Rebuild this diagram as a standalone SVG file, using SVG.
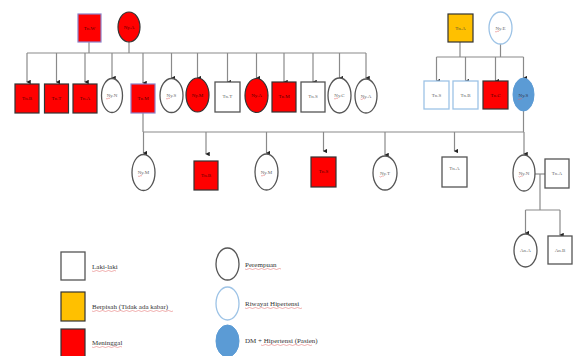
<svg xmlns="http://www.w3.org/2000/svg" width="573" height="356" viewBox="0 0 573 356">
<defs>
<marker id="arr" viewBox="0 0 6 6" refX="3" refY="5" markerWidth="4.5" markerHeight="4.5" orient="auto-start-reverse" markerUnits="userSpaceOnUse">
<path d="M0,0 L6,0 L3,6 Z" fill="#222"/>
</marker>
<style>
.ln{stroke:#8a8a8a;stroke-width:1.2;fill:none}
.dr{stroke:#8a8a8a;stroke-width:1.2;fill:none;marker-end:url(#arr)}
.m{fill:#fff;stroke:#555;stroke-width:1.3}
.mb{fill:#fff;stroke:#9dc3e6;stroke-width:1.3}
.r{fill:#ff0000;stroke:#333;stroke-width:1.2}
.rp{fill:#ff0000;stroke:#8c80c8;stroke-width:1.2}
.y{fill:#ffc000;stroke:#333;stroke-width:1.2}
.b{fill:#5b9bd5;stroke:#5b9bd5;stroke-width:1}
.f{fill:#fff;stroke:#555;stroke-width:1.3}
.fb{fill:#fff;stroke:#9dc3e6;stroke-width:1.3}
.t{font-family:"Liberation Serif",serif;font-size:5px;fill:#666;text-anchor:middle}
.tr{font-family:"Liberation Serif",serif;font-size:5px;fill:#500;text-anchor:middle}
.lg{font-family:"Liberation Serif",serif;font-size:7px;fill:#333}
.sq{stroke:#e06060;stroke-width:0.5;fill:none}
</style>
</defs>

<g id="connectors">
<line class="ln" x1="89" y1="42" x2="89" y2="53"/>
<line class="ln" x1="129" y1="42" x2="129" y2="53"/>
<line class="ln" x1="27" y1="53" x2="366" y2="53"/>
<line class="dr" x1="27" y1="53" x2="27" y2="82"/>
<line class="dr" x1="56.5" y1="53" x2="56.5" y2="82"/>
<line class="dr" x1="85" y1="53" x2="85" y2="82"/>
<line class="dr" x1="112" y1="53" x2="112" y2="78"/>
<line class="dr" x1="143" y1="53" x2="143" y2="83"/>
<line class="dr" x1="171.5" y1="53" x2="171.5" y2="78"/>
<line class="dr" x1="197.5" y1="53" x2="197.5" y2="78"/>
<line class="dr" x1="227.5" y1="53" x2="227.5" y2="82"/>
<line class="dr" x1="256.5" y1="53" x2="256.5" y2="78"/>
<line class="dr" x1="284" y1="53" x2="284" y2="82"/>
<line class="dr" x1="313" y1="53" x2="313" y2="82"/>
<line class="dr" x1="339.5" y1="53" x2="339.5" y2="78"/>
<line class="dr" x1="366" y1="53" x2="366" y2="78"/>

<line class="ln" x1="460" y1="42" x2="460" y2="57"/>
<line class="ln" x1="500.5" y1="44" x2="500.5" y2="57"/>
<line class="ln" x1="436.5" y1="57" x2="523.5" y2="57"/>
<line class="dr" x1="436.5" y1="57" x2="436.5" y2="81"/>
<line class="dr" x1="465.5" y1="57" x2="465.5" y2="81"/>
<line class="dr" x1="495.5" y1="57" x2="495.5" y2="81"/>
<line class="dr" x1="523.5" y1="57" x2="523.5" y2="78"/>

<line class="ln" x1="143" y1="112" x2="143" y2="132"/>
<line class="ln" x1="523.5" y1="111" x2="523.5" y2="132"/>
<line class="ln" x1="143" y1="132" x2="524" y2="132"/>
<line class="dr" x1="143.5" y1="132" x2="143.5" y2="153"/>
<line class="dr" x1="206" y1="132" x2="206" y2="154"/>
<line class="dr" x1="266.5" y1="132" x2="266.5" y2="153"/>
<line class="dr" x1="323.5" y1="132" x2="323.5" y2="151"/>
<line class="dr" x1="385" y1="132" x2="385" y2="155"/>
<line class="dr" x1="454.5" y1="132" x2="454.5" y2="151"/>
<line class="dr" x1="524" y1="132" x2="524" y2="154"/>

<line class="ln" x1="535" y1="174" x2="545" y2="174"/>
<line class="ln" x1="540" y1="174" x2="540" y2="210"/>
<line class="ln" x1="525.5" y1="210" x2="560" y2="210"/>
<line class="dr" x1="525.5" y1="210" x2="525.5" y2="233"/>
<line class="dr" x1="560" y1="210" x2="560" y2="235"/>
</g>

<g id="tnW"><rect class="rp" x="78" y="14" width="23" height="28"/><text class="tr" x="89.5" y="30">Tn.W</text></g>
<g id="nyA0"><ellipse class="r" cx="129" cy="27" rx="11" ry="15"/><text class="tr" x="129" y="29">Ny.A</text></g>

<g id="c1"><rect class="r" x="15" y="84" width="24" height="29"/><text class="tr" x="27" y="100">Tn.B</text></g>
<g id="c2"><rect class="r" x="44.5" y="84" width="24" height="29"/><text class="tr" x="56.5" y="100">Tn.T</text></g>
<g id="c3"><rect class="r" x="73" y="84" width="24" height="29"/><text class="tr" x="85" y="100">Tn.A</text></g>
<g id="c4"><ellipse class="f" cx="112" cy="95.5" rx="10.5" ry="17"/><text class="t" x="112" y="97">Ny.N</text><path class="sq" d="M106,98.5 q1,1 2,0 t2,0"/></g>
<g id="c5"><rect class="rp" x="131" y="84" width="24" height="29"/><text class="tr" x="143" y="100">Tn.M</text></g>
<g id="c6"><ellipse class="f" cx="171.5" cy="95.5" rx="11.5" ry="17"/><text class="t" x="171.5" y="97">Ny.S</text><path class="sq" d="M166,98.5 q1,1 2,0 t2,0"/></g>
<g id="c7"><ellipse class="r" cx="197.5" cy="95" rx="11.5" ry="17"/><text class="tr" x="197.5" y="97">Ny.M</text></g>
<g id="c8"><rect class="m" x="215" y="82" width="25" height="30"/><text class="t" x="227.5" y="98">Tn.T</text></g>
<g id="c9"><ellipse class="r" cx="256.5" cy="95.5" rx="11.5" ry="17"/><text class="tr" x="256.5" y="97">Ny.A</text></g>
<g id="c10"><rect class="r" x="272" y="82" width="24" height="30"/><text class="tr" x="284" y="98">Tn.M</text></g>
<g id="c11"><rect class="m" x="301" y="82" width="24" height="30"/><text class="t" x="313" y="98">Tn.S</text></g>
<g id="c12"><ellipse class="f" cx="339.5" cy="95.5" rx="11.5" ry="17.5"/><text class="t" x="339.5" y="97">Ny.C</text><path class="sq" d="M334,98.5 q1,1 2,0 t2,0"/></g>
<g id="c13"><ellipse class="f" cx="366" cy="96" rx="11" ry="17"/><text class="t" x="366" y="97.5">Ny.A</text><path class="sq" d="M360.5,99 q1,1 2,0 t2,0"/></g>

<g id="tnA0"><rect class="y" x="448" y="14" width="25" height="28"/><text class="t" x="460.5" y="30" style="fill:#553">Tn.A</text></g>
<g id="nyE"><ellipse class="fb" cx="500.5" cy="28" rx="11.5" ry="16"/><text class="t" x="500.5" y="30">Ny.E</text><path class="sq" d="M495,31.5 q1,1 2,0 t2,0"/></g>

<g id="d1"><rect class="mb" x="424" y="81" width="25" height="28"/><text class="t" x="436.5" y="97">Tn.S</text></g>
<g id="d2"><rect class="mb" x="453" y="81" width="25" height="28"/><text class="t" x="465.5" y="97">Tn.B</text></g>
<g id="d3"><rect class="r" x="483" y="81" width="25" height="28"/><text class="tr" x="495.5" y="97">Tn.C</text></g>
<g id="d4"><ellipse class="b" cx="523.5" cy="94.5" rx="10.5" ry="16.5"/><text class="t" x="523.5" y="96.5" style="fill:#334">Ny.S</text><path class="sq" d="M518,99 q1,1 2,0 t2,0"/></g>

<g id="g1"><ellipse class="f" cx="143.5" cy="172.5" rx="11.5" ry="18"/><text class="t" x="143.5" y="174">Ny.M</text><path class="sq" d="M138,176 q1,1 2,0 t2,0"/></g>
<g id="g2"><rect class="r" x="194" y="161" width="24" height="29"/><text class="tr" x="206" y="177">Tn.B</text></g>
<g id="g3"><ellipse class="f" cx="266.5" cy="172" rx="11.5" ry="18"/><text class="t" x="266.5" y="173.5">Ny.M</text><path class="sq" d="M261,175.5 q1,1 2,0 t2,0"/></g>
<g id="g4"><rect class="r" x="311" y="157" width="25" height="30"/><text class="tr" x="323.5" y="173">Tn.S</text></g>
<g id="g5"><ellipse class="f" cx="385" cy="173" rx="12" ry="17"/><text class="t" x="385" y="174.5">Ny.T</text><path class="sq" d="M379.5,176.5 q1,1 2,0 t2,0"/></g>
<g id="g6"><rect class="m" x="442" y="157" width="25" height="30"/><text class="t" x="454.5" y="170">Tn.A</text></g>
<g id="g7"><ellipse class="f" cx="524" cy="173" rx="11" ry="18"/><text class="t" x="524" y="174.5">Ny.N</text><path class="sq" d="M518.5,176.5 q1,1 2,0 t2,0"/></g>
<g id="g8"><rect class="m" x="545" y="159" width="24" height="29"/><text class="t" x="557" y="175">Tn.A</text></g>

<g id="h1"><ellipse class="f" cx="525.5" cy="250.5" rx="11.5" ry="16.5"/><text class="t" x="525.5" y="252">An.A</text></g>
<g id="h2"><rect class="m" x="548" y="236" width="24" height="28"/><text class="t" x="560" y="251.5">An.B</text></g>

<g id="legend">
<rect class="m" x="61" y="252" width="24" height="28"/>
<text class="lg" x="92" y="269">Laki-laki</text>
<path class="sq" d="M92,271 q1.5,1 3,0 t3,0 t3,0 t3,0 t3,0 t3,0 t3,0 t3,0"/>
<rect class="y" x="61" y="292" width="24" height="29"/>
<text class="lg" x="92" y="309">Berpisah (Tidak ada kabar)</text>
<path class="sq" d="M92,311 q1.5,1 3,0 t3,0 t3,0 t3,0 t3,0 t3,0 t3,0 t3,0 t3,0 t3,0 t3,0 t3,0 t3,0 t3,0 t3,0 t3,0 t3,0 t3,0 t3,0 t3,0 t3,0 t3,0 t3,0 t3,0 t3,0 t3,0 t3,0"/>
<rect class="r" x="61" y="329" width="24" height="30"/>
<text class="lg" x="92" y="345">Meninggal</text>
<path class="sq" d="M92,347 q1.5,1 3,0 t3,0 t3,0 t3,0 t3,0 t3,0 t3,0 t3,0 t3,0 t3,0"/>
<ellipse class="f" cx="227.5" cy="264" rx="11.5" ry="16"/>
<text class="lg" x="245" y="267">Perempuan</text>
<path class="sq" d="M245,269 q1.5,1 3,0 t3,0 t3,0 t3,0 t3,0 t3,0 t3,0 t3,0 t3,0 t3,0 t3,0 t3,0"/>
<ellipse class="fb" cx="227.5" cy="303.5" rx="11.5" ry="16.5"/>
<text class="lg" x="245" y="306">Riwayat Hipertensi</text>
<path class="sq" d="M245,308 q1.5,1 3,0 t3,0 t3,0 t3,0 t3,0 t3,0 t3,0 t3,0 t3,0 t3,0 t3,0 t3,0 t3,0 t3,0 t3,0 t3,0 t3,0 t3,0 t3,0"/>
<ellipse class="b" cx="227.5" cy="341" rx="11.5" ry="16"/>
<text class="lg" x="245" y="343">DM + Hipertensi (Pasien)</text>
<path class="sq" d="M261,345 q1.5,1 3,0 t3,0 t3,0 t3,0 t3,0 t3,0 t3,0 t3,0 t3,0 t3,0 t3,0 t3,0 t3,0 t3,0 t3,0 t3,0 t3,0"/>
</g>
</svg>
